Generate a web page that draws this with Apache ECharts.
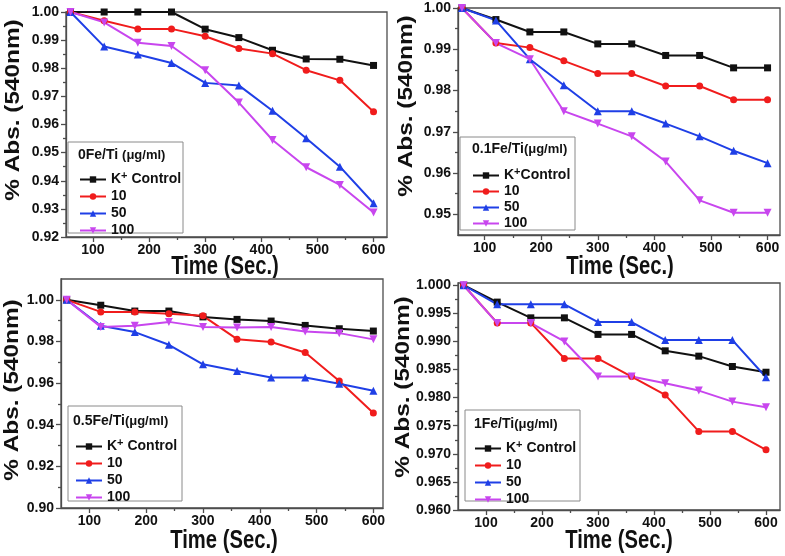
<!DOCTYPE html>
<html><head><meta charset="utf-8">
<script src="https://cdn.jsdelivr.net/npm/echarts@6/dist/echarts.min.js"></script>
<style>
html,body{margin:0;padding:0;background:#fff;width:785px;height:556px;overflow:hidden}
.p{position:absolute}
</style></head>
<body>
<div id="c1" class="p" style="left:0;top:0;width:392px;height:278px"></div>
<div id="c2" class="p" style="left:392px;top:0;width:393px;height:278px"></div>
<div id="c3" class="p" style="left:0;top:278px;width:392px;height:278px"></div>
<div id="c4" class="p" style="left:392px;top:278px;width:393px;height:278px"></div>
<script>
// ---- data ----
const timeSec = [60, 120, 180, 240, 300, 360, 420, 480, 540, 600];
const seriesNames = ['K+ Control', '10', '50', '100'];

const p1Control = [1.000, 1.000, 1.000, 1.000, 0.9939, 0.9909, 0.9864, 0.9833, 0.9832, 0.9810];
const p1Fe10    = [1.000, 0.9969, 0.9940, 0.9940, 0.9914, 0.9870, 0.9852, 0.9793, 0.9757, 0.9645];
const p1Fe50    = [1.000, 0.9877, 0.9849, 0.9819, 0.9748, 0.9739, 0.9649, 0.9551, 0.9450, 0.9320];
const p1Fe100   = [1.000, 0.9963, 0.9891, 0.9879, 0.9793, 0.9678, 0.9545, 0.9448, 0.9385, 0.9287];

const p2Control = [1.000, 0.9972, 0.9942, 0.9942, 0.9913, 0.9913, 0.9885, 0.9885, 0.9855, 0.9855];
const p2Fe10    = [1.000, 0.9915, 0.9904, 0.9872, 0.9841, 0.9841, 0.9811, 0.9811, 0.9778, 0.9778];
const p2Fe50    = [1.000, 0.9970, 0.9876, 0.9813, 0.9750, 0.9750, 0.9720, 0.9689, 0.9654, 0.9624];
const p2Fe100   = [1.000, 0.9915, 0.9876, 0.9750, 0.9720, 0.9689, 0.9628, 0.9534, 0.9504, 0.9504];

const p3Control = [1.000, 0.9974, 0.9946, 0.9946, 0.9918, 0.9906, 0.9898, 0.9877, 0.9861, 0.9850];
const p3Fe10    = [1.000, 0.9942, 0.9942, 0.9933, 0.9923, 0.9811, 0.9797, 0.9747, 0.9610, 0.9456];
const p3Fe50    = [1.000, 0.9875, 0.9845, 0.9784, 0.9690, 0.9658, 0.9627, 0.9627, 0.9597, 0.9563];
const p3Fe100   = [1.000, 0.9870, 0.9875, 0.9894, 0.9870, 0.9867, 0.9869, 0.9848, 0.9840, 0.9810];

const p4Control = [1.000, 0.9970, 0.9942, 0.9942, 0.99125, 0.99125, 0.98833, 0.98738, 0.98554, 0.98452];
const p4Fe10    = [1.000, 0.9933, 0.9933, 0.98696, 0.98696, 0.98375, 0.98048, 0.97399, 0.97399, 0.97071];
const p4Fe50    = [1.000, 0.99661, 0.99661, 0.99661, 0.99345, 0.99345, 0.99024, 0.99024, 0.99024, 0.98363];
const p4Fe100   = [1.000, 0.99327, 0.99327, 0.9900, 0.98375, 0.98375, 0.98256, 0.98125, 0.97929, 0.97827];

// tick labels
const xTicks = [100, 200, 300, 400, 500, 600];
const xMinor = [150, 250, 350, 450, 550];
const p1YTicks = [0.92, 0.93, 0.94, 0.95, 0.96, 0.97, 0.98, 0.99, 1.00];
const p1YMinor = [0.925, 0.935, 0.945, 0.955, 0.965, 0.975, 0.985, 0.995];
const p2YTicks = [0.95, 0.96, 0.97, 0.98, 0.99, 1.00];
const p2YMinor = [0.955, 0.965, 0.975, 0.985, 0.995];
const p3YTicks = [0.90, 0.92, 0.94, 0.96, 0.98, 1.00];
const p3YMinor = [0.91, 0.93, 0.95, 0.97, 0.99];
const p4YTicks = [0.960, 0.965, 0.970, 0.975, 0.980, 0.985, 0.990, 0.995, 1.000];
const p4YMinor = [0.9625, 0.9675, 0.9725, 0.9775, 0.9825, 0.9875, 0.9925, 0.9975];

const legendTitles = ['0Fe/Ti ', '0.1Fe/Ti', '0.5Fe/Ti', '1Fe/Ti'];
const unitText = '(μg/ml)';
const xName = 'Time (Sec.)';
const yName = '% Abs. (540nm)';

// ---- styles ----
const FONT = '"Liberation Sans", Arial, sans-serif';
const AX = '#4d4d4d';
const colors = ['#111111', '#f01c1c', '#1f3fe6', '#c846ee'];
const symbols = ['rect', 'circle', 'triangle', 'triangle'];
const symRot = [0, 0, 0, 180];
const symSize = [7, 7, 8, 8];

function build(elId, cfg) {
  const chart = echarts.init(document.getElementById(elId), null, {renderer: 'canvas'});
  const g = cfg.grid;
  const axisCommon = {
    type: 'value', gridIndex: 0,
    splitLine: {show: false}
  };
  const xMain = Object.assign({}, axisCommon, {
    min: cfg.xMin, max: cfg.xMax, position: 'bottom',
    axisLine: {show: true, onZero: false, lineStyle: {color: AX, width: 1.3}},
    axisTick: {show: true, inside: false, length: 5, customValues: xTicks, lineStyle: {color: AX, width: 1.3}},
    axisLabel: {show: true, customValues: xTicks, margin: 6, color: '#111', fontSize: 14, fontWeight: 'bold', fontFamily: FONT}
  });
  const xMin2 = Object.assign({}, axisCommon, {
    min: cfg.xMin, max: cfg.xMax, position: 'bottom',
    axisLine: {show: false},
    axisTick: {show: true, inside: false, length: 3, customValues: xMinor, lineStyle: {color: AX, width: 1.3}},
    axisLabel: {show: false}
  });
  const yMain = Object.assign({}, axisCommon, {
    min: cfg.yMin, max: cfg.yMax, position: 'left',
    axisLine: {show: true, onZero: false, lineStyle: {color: AX, width: 1.3}},
    axisTick: {show: true, inside: false, length: 5, customValues: cfg.yTicks, lineStyle: {color: AX, width: 1.3}},
    axisLabel: {show: true, customValues: cfg.yTicks, margin: 7, color: '#111', fontSize: 14, fontWeight: 'bold', fontFamily: FONT,
      formatter: v => v.toFixed(cfg.dec)}
  });
  const yMin2 = Object.assign({}, axisCommon, {
    min: cfg.yMin, max: cfg.yMax, position: 'left',
    axisLine: {show: false},
    axisTick: {show: true, inside: false, length: 3, customValues: cfg.yMinor, lineStyle: {color: AX, width: 1.3}},
    axisLabel: {show: false}
  });
  const series = cfg.data.map((vals, i) => ({
    name: seriesNames[i], type: 'line',
    xAxisIndex: 0, yAxisIndex: 0,
    data: timeSec.map((t, k) => [t, vals[k]]),
    symbol: symbols[i], symbolSize: symSize[i], symbolRotate: symRot[i],
    lineStyle: {color: colors[i], width: 2},
    itemStyle: {color: colors[i]},
    clip: false, animation: false
  }));
  const L = cfg.legend;
  chart.setOption({
    animation: false,
    grid: {left: g[0], top: g[1], width: g[2], height: g[3], show: true, borderColor: AX, borderWidth: 1.3, backgroundColor: 'transparent'},
    xAxis: [xMain, xMin2],
    yAxis: [yMain, yMin2],
    legend: {
      orient: 'vertical', left: L.itemX, top: L.itemY, padding: 0,
      itemWidth: 26, itemHeight: 8, itemGap: L.gap,
      data: seriesNames,
      selectedMode: false,
      textStyle: {fontSize: 14, fontWeight: 'bold', color: '#111', fontFamily: FONT, padding: [0, 0, 0, 0],
        rich: {
          n: {fontSize: 14, fontWeight: 'bold', color: '#111', fontFamily: FONT},
          s: {fontSize: 11, fontWeight: 'bold', color: '#111', fontFamily: FONT, padding: [0, 0, 8, 0]}
        }},
      formatter: name => name === 'K+ Control' ? (cfg.kSpace ? '{n|K}{s|+}{n| Control}' : '{n|K}{s|+}{n|Control}') : name,
      z: 5
    },
    graphic: [
      {type: 'rect', z: 3, shape: {x: L.box[0], y: L.box[1], width: L.box[2], height: L.box[3]},
        style: {fill: '#fff', stroke: '#8a8a8a', lineWidth: 1}},
      {type: 'text', z: 4, x: L.titleX, y: L.titleY,
        style: {text: '{a|' + legendTitles[cfg.idx] + '}{b|' + unitText + '}', verticalAlign: 'middle', align: 'left',
          rich: {a: {fontSize: 14, fontWeight: 'bold', fill: '#111', fontFamily: FONT},
                 b: {fontSize: 13, fontWeight: 'bold', fill: '#111', fontFamily: FONT}}}},
      {type: 'text', z: 4, x: cfg.xNamePos[0], y: cfg.xNamePos[1], scaleX: 0.92, scaleY: 1.15,
        style: {text: xName, fontSize: 22, fontWeight: 'bold', fill: '#111', fontFamily: FONT, align: 'center', verticalAlign: 'middle'}},
      {type: 'text', z: 4, x: cfg.yNamePos[0], y: cfg.yNamePos[1], rotation: Math.PI / 2, scaleX: 1.16, scaleY: 1,
        style: {text: yName, fontSize: 21, fontWeight: 'bold', fill: '#111', fontFamily: FONT, align: 'center', verticalAlign: 'middle'}}
    ],
    series: series
  });
}

build('c1', {idx: 0, grid: [66, 12, 321, 225], xMin: 52, xMax: 624, yMin: 0.92, yMax: 1.00, dec: 2,
  yTicks: p1YTicks, yMinor: p1YMinor, data: [p1Control, p1Fe10, p1Fe50, p1Fe100], kSpace: true,
  legend: {itemX: 79, itemY: 170, gap: 3, box: [68, 142, 115, 91], titleX: 78, titleY: 155},
  xNamePos: [225, 267], yNamePos: [13, 110]});
build('c2', {idx: 1, grid: [66, 8, 322, 227], xMin: 53, xMax: 622, yMin: 0.945, yMax: 1.00, dec: 2,
  yTicks: p2YTicks, yMinor: p2YMinor, data: [p2Control, p2Fe10, p2Fe50, p2Fe100], kSpace: false,
  legend: {itemX: 80, itemY: 166, gap: 2, box: [68, 137, 115, 93], titleX: 80, titleY: 149},
  xNamePos: [228, 267], yNamePos: [14, 106]});
build('c3', {idx: 2, grid: [61, 1, 322, 229], xMin: 50, xMax: 617, yMin: 0.90, yMax: 1.01, dec: 2,
  yTicks: p3YTicks, yMinor: p3YMinor, data: [p3Control, p3Fe10, p3Fe50, p3Fe100], kSpace: true,
  legend: {itemX: 75, itemY: 159, gap: 3, box: [68, 128, 114, 95], titleX: 73, titleY: 143},
  xNamePos: [224, 263], yNamePos: [12, 112]});
build('c4', {idx: 3, grid: [66, 5, 322, 227], xMin: 50, xMax: 625, yMin: 0.96, yMax: 1.0004, dec: 3,
  yTicks: p4YTicks, yMinor: p4YMinor, data: [p4Control, p4Fe10, p4Fe50, p4Fe100], kSpace: true,
  legend: {itemX: 82, itemY: 161, gap: 3, box: [73, 132, 115, 91], titleX: 82, titleY: 146},
  xNamePos: [227, 263], yNamePos: [11, 109]});
</script>
</body></html>
